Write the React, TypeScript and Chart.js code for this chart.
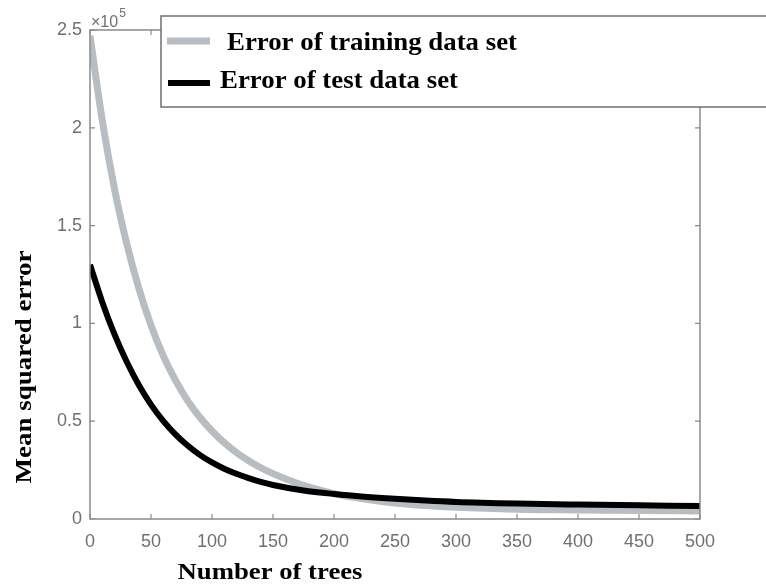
import React, { useEffect, useRef } from "react";
import { Chart, registerables } from "chart.js";

Chart.register(...registerables);

// Number of trees
const TREES = [0, 10, 20, 30, 40, 50, 60, 70, 80, 90, 100, 110, 120, 130, 140, 150, 175, 200, 225, 250, 275, 300, 350, 400, 450, 500];
// Mean squared error (x 10^5)
const TRAIN_ERR = [2.47, 2.04, 1.69, 1.41, 1.18, 0.99, 0.835, 0.71, 0.605, 0.52, 0.45, 0.39, 0.34, 0.298, 0.262, 0.232, 0.172, 0.13, 0.102, 0.082, 0.069, 0.06, 0.05, 0.046, 0.043, 0.041];
const TEST_ERR = [1.3, 1.11, 0.945, 0.805, 0.685, 0.585, 0.502, 0.433, 0.376, 0.328, 0.289, 0.257, 0.231, 0.209, 0.19, 0.174, 0.146, 0.128, 0.114, 0.103, 0.094, 0.087, 0.079, 0.074, 0.07, 0.066];
const X_TICKS = [0, 50, 100, 150, 200, 250, 300, 350, 400, 450, 500];
const Y_TICKS = [0, 0.5, 1, 1.5, 2, 2.5];
const LABEL_TRAIN = "Error of training data set";
const LABEL_TEST = "Error of test data set";
const X_TITLE = "Number of trees";
const Y_TITLE = "Mean squared error";

const GRAY = "#b8bdc2";
const AXIS = "#8a8a8a";
const TICK_TEXT = "#707070";
const SERIF = "'Liberation Serif', 'DejaVu Serif', serif";
const SANS = "'Liberation Sans', Arial, sans-serif";

function fitText(ctx: CanvasRenderingContext2D, text: string, x: number, y: number, targetW: number) {
  const w = ctx.measureText(text).width;
  const sx = targetW / w;
  ctx.save();
  ctx.translate(x, y);
  ctx.scale(sx, 1);
  ctx.fillText(text, 0, 0);
  ctx.restore();
}

const decorPlugin = {
  id: "decor",
  afterDraw(chart: any) {
    const ctx: CanvasRenderingContext2D = chart.ctx;
    const { left, right, top, bottom } = chart.chartArea;
    const xs = chart.scales.x;
    const ys = chart.scales.y;
    ctx.save();
    // axes box
    ctx.strokeStyle = AXIS;
    ctx.lineWidth = 1.5;
    ctx.beginPath();
    ctx.moveTo(left, top);
    ctx.lineTo(right, top);
    ctx.lineTo(right, bottom);
    ctx.lineTo(left, bottom);
    ctx.closePath();
    ctx.stroke();
    // inward ticks
    ctx.lineWidth = 1.2;
    const tl = 5;
    ctx.beginPath();
    X_TICKS.forEach((v) => {
      const px = xs.getPixelForValue(v);
      ctx.moveTo(px, bottom);
      ctx.lineTo(px, bottom - tl);
      ctx.moveTo(px, top);
      ctx.lineTo(px, top + tl);
    });
    Y_TICKS.forEach((v) => {
      const py = ys.getPixelForValue(v);
      ctx.moveTo(left, py);
      ctx.lineTo(left + tl, py);
      ctx.moveTo(right, py);
      ctx.lineTo(right - tl, py);
    });
    ctx.stroke();

    // exponent label
    ctx.fillStyle = TICK_TEXT;
    ctx.font = `16px ${SANS}`;
    ctx.textBaseline = "alphabetic";
    ctx.textAlign = "left";
    ctx.fillText("\u00d710", left + 1, top - 3);
    const w10 = ctx.measureText("\u00d710").width;
    ctx.font = `12px ${SANS}`;
    ctx.fillText("5", left + 2 + w10, top - 13);

    // legend box
    ctx.fillStyle = "#ffffff";
    ctx.fillRect(161, 16, 620, 91);
    ctx.strokeStyle = "#6f6f6f";
    ctx.lineWidth = 1.5;
    ctx.strokeRect(161, 16, 620, 91);
    ctx.lineCap = "butt";
    ctx.strokeStyle = GRAY;
    ctx.lineWidth = 7;
    ctx.beginPath();
    ctx.moveTo(167, 41);
    ctx.lineTo(210, 41);
    ctx.stroke();
    ctx.strokeStyle = "#000000";
    ctx.lineWidth = 6;
    ctx.beginPath();
    ctx.moveTo(168, 83);
    ctx.lineTo(210, 83);
    ctx.stroke();
    ctx.fillStyle = "#000000";
    ctx.font = `bold 25px ${SERIF}`;
    ctx.textAlign = "left";
    fitText(ctx, LABEL_TRAIN, 227, 50, 290);
    fitText(ctx, LABEL_TEST, 220, 88, 238);

    // axis titles
    ctx.font = `bold 23px ${SERIF}`;
    ctx.textAlign = "center";
    fitText(ctx, X_TITLE, 270, 579, 185);
    ctx.save();
    ctx.translate(31, 367);
    ctx.rotate(-Math.PI / 2);
    fitText(ctx, Y_TITLE, 0, 0, 233);
    ctx.restore();
    ctx.restore();
  },
};

export default function App() {
  const ref = useRef<HTMLCanvasElement | null>(null);
  useEffect(() => {
    document.body.style.margin = "0";
    const canvas = ref.current;
    if (!canvas) return;
    const chart = new Chart(canvas, {
      type: "line",
      data: {
        datasets: [
          {
            label: LABEL_TEST,
            data: TREES.map((x, i) => ({ x, y: TEST_ERR[i] })),
            borderColor: "#000000",
            borderWidth: 6,
            pointRadius: 0,
            cubicInterpolationMode: "monotone",
            order: 0,
          },
          {
            label: LABEL_TRAIN,
            data: TREES.map((x, i) => ({ x, y: TRAIN_ERR[i] })),
            borderColor: GRAY,
            borderWidth: 7,
            pointRadius: 0,
            cubicInterpolationMode: "monotone",
            order: 1,
          },
        ],
      },
      options: {
        responsive: false,
        animation: false,
        layout: { padding: { left: 0, top: 30, right: 66, bottom: 0 } },
        plugins: { legend: { display: false }, tooltip: { enabled: false } },
        scales: {
          x: {
            type: "linear",
            min: 0,
            max: 500,
            afterBuildTicks: (s: any) => {
              s.ticks = X_TICKS.map((v) => ({ value: v }));
            },
            afterFit: (s: any) => {
              s.height = 65;
            },
            grid: { display: false, drawTicks: false },
            border: { display: false },
            ticks: {
              padding: 12,
              color: TICK_TEXT,
              font: { size: 18, family: SANS },
              maxRotation: 0,
              autoSkip: false,
            },
          },
          y: {
            type: "linear",
            min: 0,
            max: 2.5,
            afterBuildTicks: (s: any) => {
              s.ticks = Y_TICKS.map((v) => ({ value: v }));
            },
            afterFit: (s: any) => {
              s.width = 90;
            },
            grid: { display: false, drawTicks: false },
            border: { display: false },
            ticks: {
              padding: 8,
              color: TICK_TEXT,
              font: { size: 18, family: SANS },
              callback: (v: any) => String(v),
            },
          },
        },
      },
      plugins: [decorPlugin],
    } as any);
    return () => chart.destroy();
  }, []);
  return (
    <div style={{ position: "fixed", left: 0, top: 0, width: 766, height: 584, background: "#fff" }}>
      <canvas ref={ref} width={766} height={584} />
    </div>
  );
}
